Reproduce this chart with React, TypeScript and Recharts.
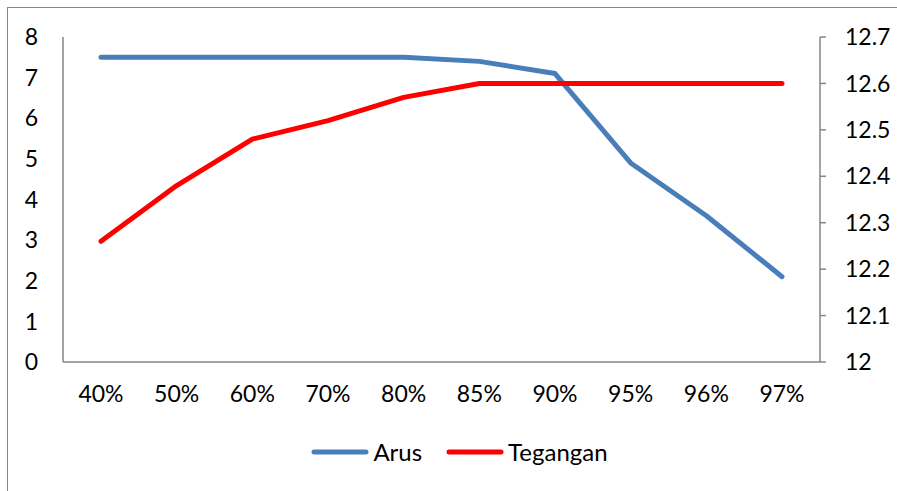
import React from 'react';
import { Legend, Line, LineChart, XAxis, YAxis } from 'recharts';

const categories = ['40%', '50%', '60%', '70%', '80%', '85%', '90%', '95%', '96%', '97%'];
const arus = [7.5, 7.5, 7.5, 7.5, 7.5, 7.4, 7.1, 4.9, 3.6, 2.1];
const tegangan = [12.26, 12.38, 12.48, 12.52, 12.57, 12.6, 12.6, 12.6, 12.6, 12.6];
const leftTicks = [0, 1, 2, 3, 4, 5, 6, 7, 8];
const rightTicks = [12, 12.1, 12.2, 12.3, 12.4, 12.5, 12.6, 12.7];

const data = categories.map((name, i) => ({ name, arus: arus[i], tegangan: tegangan[i] }));

const FONT = 'Lato, "Open Sans", sans-serif';
const AXIS = '#868686';
const BLUE = '#4a7ebb';
const RED = '#ff0000';

const legendItems = [
  { label: 'Arus', color: BLUE },
  { label: 'Tegangan', color: RED },
];

const ChartLegend = () => (
  <div
    style={{
      display: 'flex',
      justifyContent: 'center',
      alignItems: 'center',
      fontFamily: FONT,
      fontSize: 24,
      color: '#000',
      paddingLeft: 46,
      paddingTop: 16,
    }}
  >
    {legendItems.map(item => (
      <div key={item.label} style={{ display: 'flex', alignItems: 'center', marginRight: 24 }}>
        <svg width={58} height={10} style={{ marginRight: 4 }}>
          <line x1={3} y1={5} x2={55} y2={5} stroke={item.color} strokeWidth={5} strokeLinecap="round" />
        </svg>
        <span>{item.label}</span>
      </div>
    ))}
  </div>
);

export default function App() {
  return (
    <div style={{ position: 'absolute', left: 0, top: 0, width: 897, height: 491, overflow: 'hidden', background: '#fff' }}>
      <div
        style={{
          position: 'absolute',
          left: 7,
          top: 7,
          width: 1000,
          height: 1000,
          borderTop: `1.5px solid ${AXIS}`,
          borderLeft: `1.5px solid ${AXIS}`,
        }}
      />
      <div style={{ position: 'absolute', left: 0, top: 0 }}>
        <LineChart width={897} height={491} data={data} margin={{ top: 37, right: 0, bottom: 0, left: 0 }}>
          <XAxis
            dataKey="name"
            padding={{ left: 38, right: 38 }}
            height={59}
            tickLine={false}
            tickSize={0}
            tickMargin={24}
            axisLine={{ stroke: AXIS, strokeWidth: 1.5 }}
            tick={{ fill: '#000', fontSize: 23, fontFamily: FONT }}
            interval={0}
          />
          <YAxis
            yAxisId="left"
            domain={[0, 8]}
            ticks={leftTicks}
            width={63}
            tickLine={false}
            tickSize={0}
            tickMargin={25}
            axisLine={{ stroke: AXIS, strokeWidth: 1.5 }}
            tick={{ fill: '#000', fontSize: 23, fontFamily: FONT }}
          />
          <YAxis
            yAxisId="right"
            orientation="right"
            domain={[12, 12.7]}
            ticks={rightTicks}
            width={77}
            tickSize={6}
            tickMargin={19}
            tickLine={{ stroke: AXIS, strokeWidth: 1.5 }}
            axisLine={{ stroke: AXIS, strokeWidth: 1.5 }}
            tick={{ fill: '#000', fontSize: 23, fontFamily: FONT, textAnchor: 'start' }}
            tickFormatter={v => String(v)}
          />
          <Legend verticalAlign="bottom" height={70} content={<ChartLegend />} />
          <Line
            yAxisId="left"
            dataKey="arus"
            name="Arus"
            stroke={BLUE}
            strokeWidth={5}
            strokeLinecap="round"
            strokeLinejoin="round"
            dot={false}
            isAnimationActive={false}
          />
          <Line
            yAxisId="right"
            dataKey="tegangan"
            name="Tegangan"
            stroke={RED}
            strokeWidth={5}
            strokeLinecap="round"
            strokeLinejoin="round"
            dot={false}
            isAnimationActive={false}
          />
        </LineChart>
      </div>
    </div>
  );
}
